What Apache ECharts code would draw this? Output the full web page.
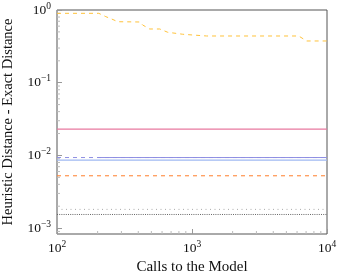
<!DOCTYPE html>
<html>
<head>
<meta charset="utf-8">
<script src="https://cdn.jsdelivr.net/npm/echarts@6/dist/echarts.min.js"></script>
<style>html,body{margin:0;padding:0;background:#fff}#c{width:342px;height:275px}</style>
</head>
<body>
<div id="c"></div>
<script>
// ---- data ----
const xMin = 100, xMax = 10000;
const yMin = 8.3e-4, yMax = 1;
const xTickLabels = [100, 1000, 10000];
const yTickLabels = [0.001, 0.01, 0.1, 1];

const yellowX = [100, 204, 230, 255, 282, 410, 431, 486, 577, 661, 853, 1011, 1285, 6170, 7068, 10000];
const yellowY = [0.90, 0.90, 0.81, 0.75, 0.69, 0.684, 0.622, 0.548, 0.548, 0.494, 0.464, 0.453, 0.439, 0.439, 0.375, 0.375];
const pinkX = [100, 10000];       const pinkY = [0.0230, 0.0230];
const purpleDashX = [100, 10000]; const purpleDashY = [0.00935, 0.00935];
const purpleX = [200, 10000];     const purpleY = [0.00935, 0.00935];
const lightBlueX = [100, 10000];  const lightBlueY = [0.00862, 0.00862];
const orangeX = [100, 10000];     const orangeY = [0.00525, 0.00525];
const grayDotX = [100, 10000];    const grayDotY = [0.00181, 0.00181];
const darkDotX = [100, 10000];    const darkDotY = [0.00154, 0.00154];

function pairs(xs, ys) { return xs.map((x, i) => [x, ys[i]]); }

// minor tick positions (axis decoration)
const yMinor = [], xMinor = [];
for (let k = -4; k <= 0; k++) for (let m = 2; m <= 9; m++) {
  const v = m * Math.pow(10, k);
  if (v > yMin && v < yMax) yMinor.push(v);
}
for (let k = 2; k <= 3; k++) for (let m = 2; m <= 9; m++) xMinor.push(m * Math.pow(10, k));

const FONT = '"Liberation Serif", "DejaVu Serif", serif';
function powLabel(v) {
  const e = Math.round(Math.log10(v));
  const s = e < 0 ? '\u2212' + (-e) : '' + e;
  return '{b|10}{s|' + s + '}';
}
const rich = {
  b: { fontFamily: FONT, fontSize: 13.5, color: '#111' },
  s: { fontFamily: FONT, fontSize: 9.5, color: '#111', verticalAlign: 'bottom', padding: [0, 0, 8, 0] }
};

function lineSeries(xs, ys, color, type, width) {
  return {
    type: 'line', data: pairs(xs, ys), showSymbol: false, symbol: 'none',
    lineStyle: { color: color, width: width || 1, type: type || 'solid' },
    silent: true, animation: false, z: 3
  };
}

const chart = echarts.init(document.getElementById('c'), null, { renderer: 'canvas' });
chart.setOption({
  animation: false,
  grid: { left: 57, right: 15, top: 10, bottom: 41, containLabel: false, outerBoundsMode: 'none', show: true, borderColor: '#555', borderWidth: 1, backgroundColor: 'transparent' },
  xAxis: {
    type: 'log', logBase: 10, min: xMin, max: xMax,
    name: 'Calls to the Model', nameLocation: 'middle', nameGap: 26,
    nameTextStyle: { fontFamily: FONT, fontSize: 15, color: '#111' },
    axisLine: { show: false },
    axisTick: { show: true, inside: true, length: 5, lineStyle: { color: '#999' } },
    splitLine: { show: false },
    axisLabel: { formatter: powLabel, rich: rich, margin: 5, showMinLabel: true, showMaxLabel: true }
  },
  yAxis: {
    type: 'log', logBase: 10, min: yMin, max: yMax,
    name: 'Heuristic Distance - Exact Distance', nameLocation: 'middle', nameGap: 41,
    nameTextStyle: { fontFamily: FONT, fontSize: 14.5, color: '#111' },
    axisLine: { show: false },
    axisTick: { show: true, inside: true, length: 5, lineStyle: { color: '#999' } },
    splitLine: { show: false },
    axisLabel: {
      rich: rich, margin: 6, showMinLabel: false,
      formatter: function (v) {
        const e = Math.log10(v);
        if (Math.abs(e - Math.round(e)) > 1e-6) return '';
        return powLabel(v);
      }
    }
  },
  series: [
    lineSeries(darkDotX, darkDotY, '#666', [1, 1.2], 1),
    lineSeries(grayDotX, grayDotY, '#aaa', [1, 3.5], 1),
    lineSeries(orangeX, orangeY, '#ff8a3d', [4, 4], 1.1),
    lineSeries(lightBlueX, lightBlueY, '#9fb8f2', 'solid', 1.3),
    lineSeries(purpleDashX, purpleDashY, '#8f8fe3', [4, 4], 1),
    lineSeries(purpleX, purpleY, '#8f8fe3', 'solid', 1),
    lineSeries(pinkX, pinkY, '#e8789f', 'solid', 1.1),
    lineSeries(yellowX, yellowY, '#ffc23a', [4, 4], 1),
    {
      type: 'custom', silent: true, clip: false, z: 2,
      data: yMinor.map(v => [xMin, v]),
      renderItem: function (params, api) {
        const p = api.coord([api.value(0), api.value(1)]);
        return { type: 'line', shape: { x1: p[0], y1: p[1], x2: p[0] + 3, y2: p[1] }, style: { stroke: '#bbb', lineWidth: 1 } };
      }
    },
    {
      type: 'custom', silent: true, clip: false, z: 2,
      data: xMinor.map(v => [v, yMin]),
      renderItem: function (params, api) {
        const p = api.coord([api.value(0), api.value(1)]);
        return { type: 'line', shape: { x1: p[0], y1: p[1], x2: p[0], y2: p[1] - 3 }, style: { stroke: '#bbb', lineWidth: 1 } };
      }
    }
  ]
});
</script>
</body>
</html>
